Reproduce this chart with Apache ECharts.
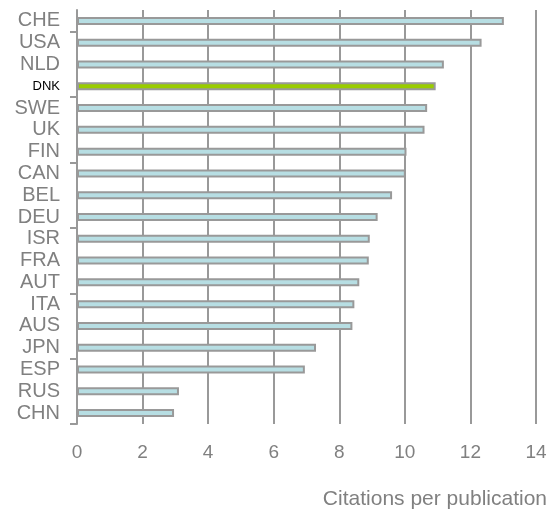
<!DOCTYPE html>
<html>
<head>
<meta charset="utf-8">
<script src="https://cdn.jsdelivr.net/npm/echarts@6/dist/echarts.min.js"></script>
<style>
  html, body { margin: 0; padding: 0; background: #fff; }
  #chart { width: 558px; height: 514px; }
</style>
</head>
<body>
<div id="chart"></div>
<script>
// 国家 / 引用数
const countries = ['CHE', 'USA', 'NLD', 'DNK', 'SWE', 'UK', 'FIN', 'CAN', 'BEL', 'DEU',
  'ISR', 'FRA', 'AUT', 'ITA', 'AUS', 'JPN', 'ESP', 'RUS', 'CHN'];
const citations = [13.02, 12.34, 11.19, 10.94, 10.68, 10.6, 10.05, 10.03, 9.61, 9.17,
  8.93, 8.9, 8.61, 8.46, 8.4, 7.29, 6.95, 3.11, 2.96];
const xTicks = [0, 2, 4, 6, 8, 10, 12, 14];
const highlight = 'DNK';

const grey = '#999999';
const labelGrey = '#808080';

const chart = echarts.init(document.getElementById('chart'));

const barData = countries.map((name, i) => {
  if (name === highlight) {
    return { value: citations[i], itemStyle: { color: '#99cc00' } };
  }
  return citations[i];
});

// 刻度：每3个类目一个
function tickEvery3(a, b) {
  let i = typeof a === 'number' ? a : countries.indexOf(b);
  if (i < 0 && a && typeof a.value === 'number') i = a.value;
  return i % 3 === 1;
}

chart.setOption({
  animation: false,
  title: {
    text: 'Citations per publication',
    right: 11,
    top: 489,
    padding: 0,
    textStyle: {
      fontFamily: 'Liberation Sans',
      fontSize: 21,
      fontWeight: 'normal',
      color: labelGrey,
    },
  },
  grid: { left: 77, right: 22, top: 10, bottom: 90 },
  xAxis: {
    type: 'value',
    min: xTicks[0],
    max: xTicks[xTicks.length - 1],
    interval: 2,
    axisLine: { show: false },
    axisTick: { show: false },
    splitLine: { lineStyle: { color: grey, width: 2 } },
    axisLabel: {
      margin: 19,
      fontFamily: 'Liberation Sans',
      fontSize: 19,
      color: labelGrey,
    },
  },
  yAxis: {
    type: 'category',
    data: countries,
    inverse: true,
    axisLine: { lineStyle: { color: grey, width: 2 } },
    axisTick: {
      show: true,
      length: 7,
      interval: tickEvery3,
      lineStyle: { color: grey, width: 2 },
    },
    axisLabel: {
      interval: 0,
      margin: 17,
      fontFamily: 'Liberation Sans',
      fontSize: 20,
      color: labelGrey,
      formatter: function (value) {
        return value === highlight ? '{hl|' + value + '}' : value;
      },
      rich: {
        hl: { fontFamily: 'Liberation Sans', fontSize: 13, color: '#000' },
      },
    },
  },
  series: [
    {
      type: 'bar',
      data: barData,
      barWidth: 8,
      itemStyle: {
        color: '#b7dee3',
        borderColor: '#999999',
        borderWidth: 2,
      },
    },
  ],
});
</script>
</body>
</html>
